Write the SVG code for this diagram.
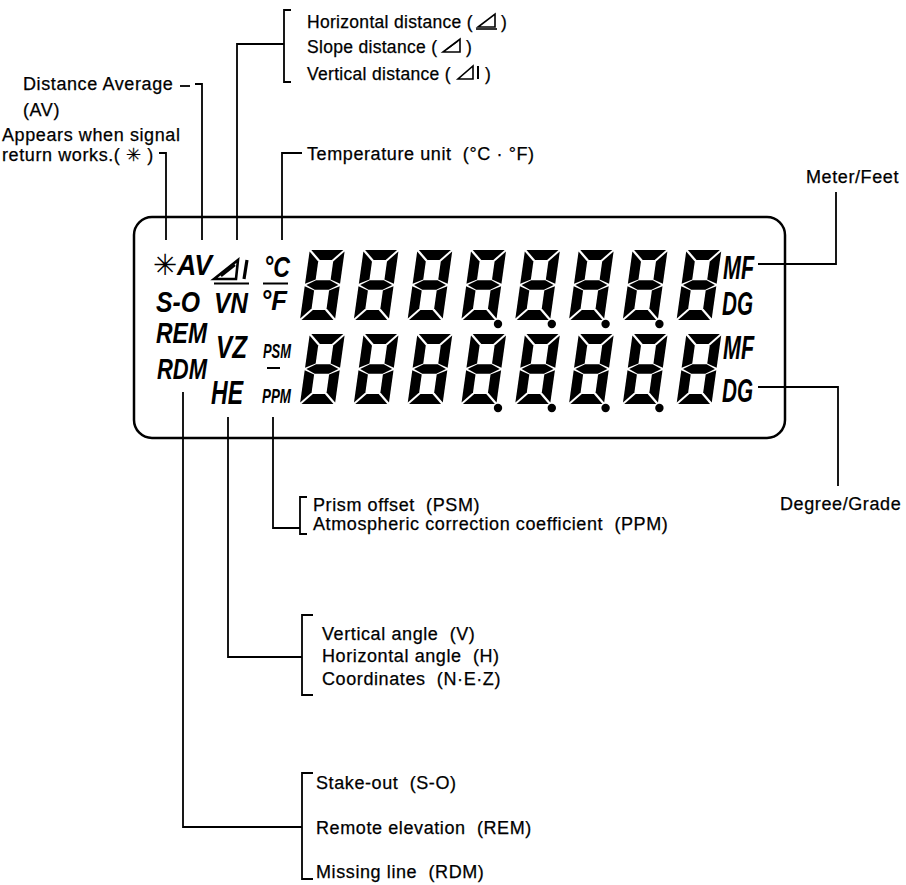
<svg xmlns="http://www.w3.org/2000/svg" width="906" height="885" viewBox="0 0 906 885">
<style>
.lbl{font-family:"Liberation Sans",Arial,sans-serif;font-size:18px;letter-spacing:0.6px;fill:#000;stroke:#000;stroke-width:0.25;white-space:pre}
.top{font-size:17.5px;letter-spacing:0.3px}
.lcd{font-family:"Liberation Sans",Arial,sans-serif;font-style:italic;font-weight:bold;fill:#000}
.ln{stroke:#000;stroke-width:1.8;fill:none}
.sym{stroke:#000;stroke-width:1.6;fill:none}
.seg{fill:#000}
</style>
<defs>
<g id="dig">
<polygon class="seg" points="1.5,0 33.5,0 23.5,10 11.5,10"/>
<polygon class="seg" points="0,1.5 10,11.5 10,29.5 0,33.8"/>
<polygon class="seg" points="35,1.5 35,33.8 25,29.5 25,11.5"/>
<polygon class="seg" points="1.5,35 10.5,30.3 24.5,30.3 33.5,35 24.5,39.7 10.5,39.7"/>
<polygon class="seg" points="0,36.2 10,40.5 10,58.5 0,68.5"/>
<polygon class="seg" points="35,36.2 35,68.5 25,58.5 25,40.5"/>
<polygon class="seg" points="1.5,70 11.5,60 23.5,60 33.5,70"/>
</g>
</defs>
<rect width="906" height="885" fill="#fff"/>

<g id="lcd">
<rect x="134" y="217" width="651" height="221" rx="18" fill="none" stroke="#000" stroke-width="2.5"/>
<g id="row1">
<use href="#dig" transform="translate(309.8,250) skewX(-8)"/>
<use href="#dig" transform="translate(363.6,250) skewX(-8)"/>
<use href="#dig" transform="translate(417.4,250) skewX(-8)"/>
<use href="#dig" transform="translate(471.2,250) skewX(-8)"/>
<use href="#dig" transform="translate(525,250) skewX(-8)"/>
<use href="#dig" transform="translate(578.8,250) skewX(-8)"/>
<use href="#dig" transform="translate(632.6,250) skewX(-8)"/>
<use href="#dig" transform="translate(686.4,250) skewX(-8)"/>
<circle cx="498" cy="324" r="4.2"/>
<circle cx="551.8" cy="324" r="4.2"/>
<circle cx="605.6" cy="324" r="4.2"/>
<circle cx="659.4" cy="324" r="4.2"/>
</g>
<g id="row2">
<use href="#dig" transform="translate(309.8,334) skewX(-8)"/>
<use href="#dig" transform="translate(363.6,334) skewX(-8)"/>
<use href="#dig" transform="translate(417.4,334) skewX(-8)"/>
<use href="#dig" transform="translate(471.2,334) skewX(-8)"/>
<use href="#dig" transform="translate(525,334) skewX(-8)"/>
<use href="#dig" transform="translate(578.8,334) skewX(-8)"/>
<use href="#dig" transform="translate(632.6,334) skewX(-8)"/>
<use href="#dig" transform="translate(686.4,334) skewX(-8)"/>
<circle cx="498" cy="408" r="4.2"/>
<circle cx="551.8" cy="408" r="4.2"/>
<circle cx="605.6" cy="408" r="4.2"/>
<circle cx="659.4" cy="408" r="4.2"/>
</g>
<text x="165" y="275" font-family="DejaVu Sans,sans-serif" font-size="29" text-anchor="middle" font-weight="bold">✳</text>
<text class="lcd" x="177" y="275" font-size="30" textLength="35" lengthAdjust="spacingAndGlyphs">AV</text>
<text class="lcd" x="156" y="312" font-size="30" textLength="44" lengthAdjust="spacingAndGlyphs">S-O</text>
<text class="lcd" x="156" y="343" font-size="29" textLength="51" lengthAdjust="spacingAndGlyphs">REM</text>
<text class="lcd" x="157" y="379" font-size="29" textLength="50" lengthAdjust="spacingAndGlyphs">RDM</text>
<g id="lcd-tri">
<path d="M214,279 L238,260 L236,279 Z" fill="none" stroke="#000" stroke-width="2.6"/>
<path d="M221,276 L235,265" stroke="#000" stroke-width="2.4"/>
<path d="M247,260 L244,279" stroke="#000" stroke-width="3.2"/>
<path d="M214,283.5 H249" stroke="#000" stroke-width="2"/>
</g>
<text class="lcd" x="214" y="313" font-size="30" textLength="34" lengthAdjust="spacingAndGlyphs">VN</text>
<text class="lcd" x="264" y="277" font-size="30" textLength="26" lengthAdjust="spacingAndGlyphs">°C</text>
<path d="M263,283.5 H288" stroke="#000" stroke-width="2"/>
<text class="lcd" x="261" y="310" font-size="28" textLength="26" lengthAdjust="spacingAndGlyphs">°F</text>
<text class="lcd" x="216" y="358" font-size="32" textLength="31" lengthAdjust="spacingAndGlyphs">VZ</text>
<text class="lcd" x="211" y="404" font-size="34" textLength="32" lengthAdjust="spacingAndGlyphs">HE</text>
<text class="lcd" x="263" y="358" font-size="21" textLength="28" lengthAdjust="spacingAndGlyphs">PSM</text>
<path d="M267,368 H280" stroke="#000" stroke-width="2"/>
<text class="lcd" x="262" y="403" font-size="21" textLength="29" lengthAdjust="spacingAndGlyphs">PPM</text>
<text class="lcd" x="723" y="279" font-size="34" textLength="31" lengthAdjust="spacingAndGlyphs">MF</text>
<text class="lcd" x="722" y="315" font-size="34" textLength="31" lengthAdjust="spacingAndGlyphs">DG</text>
<text class="lcd" x="723" y="359" font-size="34" textLength="31" lengthAdjust="spacingAndGlyphs">MF</text>
<text class="lcd" x="722" y="402" font-size="34" textLength="31" lengthAdjust="spacingAndGlyphs">DG</text>
</g>

<g id="connectors">
<path class="ln" d="M159,153 H166 V240"/>
<path class="ln" d="M180,86 H190"/>
<path class="ln" d="M195,84 H202 V240"/>
<path class="ln" d="M284,44 H237 V240"/>
<path class="ln" d="M302,153 H282 V240"/>
<path class="ln" d="M758,264 H836 V192"/>
<path class="ln" d="M758,387 H838 V486"/>
<path class="ln" d="M273,417 V528 H300"/>
<path class="ln" d="M228,417 V657 H302"/>
<path class="ln" d="M183,392 V827 H302"/>
</g>

<g id="dist-group">
<path class="ln" d="M291,10 H284 V82 H291"/>
<text class="lbl top" x="307" y="28">Horizontal distance (</text>
<path class="sym" d="M478,27 L495,27 L495,14 Z"/>
<path d="M476,29 H497" stroke="#000" stroke-width="1.6"/>
<text class="lbl top" x="501" y="28">)</text>
<text class="lbl top" x="307" y="53">Slope distance (</text>
<path class="sym" d="M443,52 L460,52 L460,39 Z"/>
<path d="M447,49 L458,41" stroke="#000" stroke-width="1.4"/>
<text class="lbl top" x="466" y="53">)</text>
<text class="lbl top" x="307" y="80">Vertical distance (</text>
<path class="sym" d="M458,79 L473,79 L473,66 Z"/>
<path d="M478,66 V79" stroke="#000" stroke-width="2"/>
<text class="lbl top" x="485" y="80">)</text>
</g>

<g id="av-label">
<text class="lbl" x="23" y="90">Distance Average</text>
<text class="lbl" x="23" y="116">(AV)</text>
</g>
<g id="signal-label">
<text class="lbl" x="2" y="141">Appears when signal</text>
<text class="lbl" x="2" y="161">return works.( ✳ )</text>
</g>
<g id="temp-label">
<text class="lbl" x="307" y="160">Temperature unit  (°C · °F)</text>
</g>
<g id="mf-label">
<text class="lbl" x="806" y="183">Meter/Feet</text>
</g>
<g id="dg-label">
<text class="lbl" x="780" y="510">Degree/Grade</text>
</g>
<g id="prism-group">
<path class="ln" d="M307,497 H300 V534 H307"/>
<text class="lbl" x="313" y="511">Prism offset  (PSM)</text>
<text class="lbl" x="313" y="530">Atmospheric correction coefficient  (PPM)</text>
</g>
<g id="angle-group">
<path class="ln" d="M313,615 H302 V695 H313"/>
<text class="lbl" x="322" y="640">Vertical angle  (V)</text>
<text class="lbl" x="322" y="662">Horizontal angle  (H)</text>
<text class="lbl" x="322" y="685">Coordinates  (N·E·Z)</text>
</g>
<g id="mode-group">
<path class="ln" d="M313,773 H302 V879 H313"/>
<text class="lbl" x="316" y="789">Stake-out  (S-O)</text>
<text class="lbl" x="316" y="834">Remote elevation  (REM)</text>
<text class="lbl" x="316" y="878">Missing line  (RDM)</text>
</g>
</svg>
